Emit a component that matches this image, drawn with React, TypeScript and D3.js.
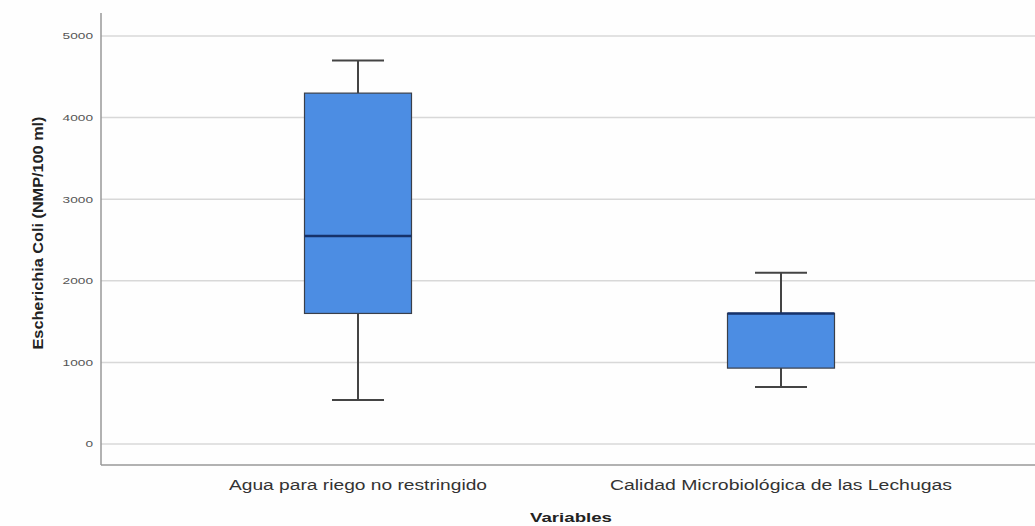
import React from "react";
import * as d3 from "d3";

const categories = ["Agua para riego no restringido", "Calidad Microbiológica de las Lechugas"];
const whiskerLow = [540, 700];
const q1 = [1600, 930];
const median = [2550, 1600];
const q3 = [4300, 1600];
const whiskerHigh = [4700, 2100];
const yTicks = [0, 1000, 2000, 3000, 4000, 5000];

const W = 1035;
const H = 526;

export default function App() {
  const y = d3.scaleLinear().domain([0, 5000]).range([444, 36]);
  const x = d3.scaleBand().domain(categories).range([146.5, 992.5]);
  const axisX = 101;
  const axisBottom = 465;
  const boxW = 107;
  const capW = 52;
  const labelWidths = [258, 342];

  return (
    <svg width={W} height={H} style={{ position: "absolute", left: 0, top: 0, background: "#fff" }}>
      <rect x={0} y={0} width={W} height={H} fill="#fefefe" />
      {yTicks.map((t) => (
        <g key={t}>
          <line x1={axisX} x2={W} y1={y(t)} y2={y(t)} stroke="#d8d8d8" strokeWidth={1.5} />
          <text
            x={93}
            y={y(t)}
            dy="0.35em"
            textAnchor="end"
            fontFamily="Arial, 'Liberation Sans', sans-serif"
            fontSize={9.5}
            fill="#555"
            textLength={String(t).length * 7.6}
            lengthAdjust="spacingAndGlyphs"
          >
            {t}
          </text>
        </g>
      ))}
      <line x1={axisX} x2={axisX} y1={13} y2={axisBottom} stroke="#999" strokeWidth={1.5} />
      <line x1={axisX} x2={W} y1={axisBottom} y2={axisBottom} stroke="#999" strokeWidth={1.5} />

      {categories.map((c, i) => {
        const cx = (x(c) as number) + x.bandwidth() / 2;
        return (
          <g key={c}>
            <line x1={cx} x2={cx} y1={y(whiskerHigh[i])} y2={y(q3[i])} stroke="#444" strokeWidth={2} />
            <line x1={cx} x2={cx} y1={y(q1[i])} y2={y(whiskerLow[i])} stroke="#444" strokeWidth={2} />
            <line x1={cx - capW / 2} x2={cx + capW / 2} y1={y(whiskerHigh[i])} y2={y(whiskerHigh[i])} stroke="#444" strokeWidth={2} />
            <line x1={cx - capW / 2} x2={cx + capW / 2} y1={y(whiskerLow[i])} y2={y(whiskerLow[i])} stroke="#444" strokeWidth={2} />
            <rect
              x={cx - boxW / 2}
              y={y(q3[i])}
              width={boxW}
              height={y(q1[i]) - y(q3[i])}
              fill="#4c8de3"
              stroke="#3a3f4a"
              strokeWidth={1.2}
            />
            <line x1={cx - boxW / 2} x2={cx + boxW / 2} y1={y(median[i])} y2={y(median[i])} stroke="#16326a" strokeWidth={2.5} />
            <text
              x={cx}
              y={485}
              dy="0.35em"
              textAnchor="middle"
              fontFamily="Arial, 'Liberation Sans', sans-serif"
              fontSize={14}
              fill="#333"
              textLength={labelWidths[i]}
              lengthAdjust="spacingAndGlyphs"
            >
              {c}
            </text>
          </g>
        );
      })}

      <text
        x={571}
        y={517}
        dy="0.35em"
        textAnchor="middle"
        fontFamily="Arial, 'Liberation Sans', sans-serif"
        fontSize={13}
        fontWeight="bold"
        fill="#222"
        textLength={82}
        lengthAdjust="spacingAndGlyphs"
      >
        Variables
      </text>
      <text
        transform={`translate(38,233) rotate(-90)`}
        dy="0.35em"
        textAnchor="middle"
        fontFamily="Arial, 'Liberation Sans', sans-serif"
        fontSize={14}
        fontWeight="bold"
        fill="#222"
        textLength={233}
        lengthAdjust="spacingAndGlyphs"
      >
        Escherichia Coli (NMP/100 ml)
      </text>
    </svg>
  );
}
